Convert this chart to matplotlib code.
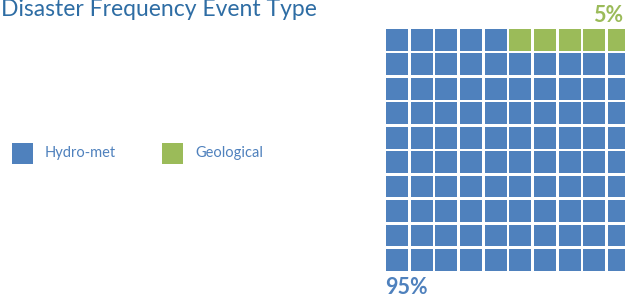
import matplotlib
matplotlib.use("Agg")
import matplotlib.pyplot as plt
from matplotlib.patches import Rectangle

categories = ["Hydro-met", "Geological"]
values = [95, 5]
pct_labels = ["95%", "5%"]
colors = ["#4f81bd", "#9bbb59"]

W, H = 625, 298
fig = plt.figure(figsize=(W / 100, H / 100), dpi=100)
plt.rcParams['font.family'] = ['Lato', 'DejaVu Sans']

# waffle axes (pixel-based placement)
pitch_x, pitch_y = 24.67, 24.45
left, top = 386, 29
ax = fig.add_axes([left / W, 1 - (top + 10 * pitch_y) / H, 10 * pitch_x / W, 10 * pitch_y / H])
ax.set_xlim(0, 10)
ax.set_ylim(10, 0)
ax.axis('off')

cell_colors = []
for cat, v in enumerate(values):
    cell_colors += [colors[cat]] * v
# fill from bottom row upward, left to right
for i, col in enumerate(cell_colors):
    r = 9 - i // 10
    c = i % 10
    ax.add_patch(Rectangle((c, r), 0.89, 0.89, facecolor=col, edgecolor='none'))

fig.text(1 / W, 1 - 10 / H, "Disaster Frequency Event Type", color="#2e6da4",
         fontsize=16.5, va='center', ha='left')

# legend
leg_x = [12, 162]
for i, cat in enumerate(categories):
    fig.patches.append(Rectangle((leg_x[i] / W, 1 - 164 / H), 21 / W, 21 / H,
                                 facecolor=colors[i], edgecolor='none',
                                 transform=fig.transFigure, figure=fig))
    fig.text((leg_x[i] + 33) / W, 1 - 153 / H, cat, color="#4f81bd",
             fontsize=10.5, va='center', ha='left')

fig.text(385 / W, 1 - 288 / H, pct_labels[0], color=colors[0], fontsize=15.5,
         fontweight='bold', va='center', ha='left')
fig.text(623 / W, 1 - 15 / H, pct_labels[1], color=colors[1], fontsize=15.5,
         fontweight='bold', va='center', ha='right')

fig.savefig("out.png", dpi=100, facecolor='white')
